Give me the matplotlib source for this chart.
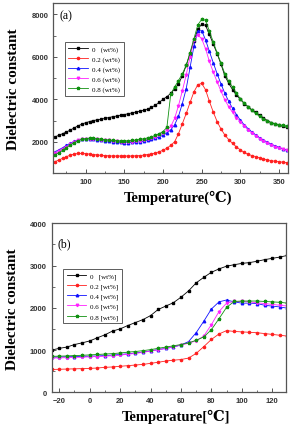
import matplotlib
matplotlib.use("Agg")
import matplotlib.pyplot as plt
from matplotlib.ticker import MultipleLocator
import numpy as np

# ---------------- data (a) ----------------
temp_a = list(range(60, 361, 5))
a_0 = [2230, 2300, 2380, 2460, 2550, 2650, 2750, 2830, 2900, 2950, 3000, 3030, 3060, 3100, 3140, 3180,
       3210, 3250, 3280, 3320, 3360, 3400, 3440, 3480, 3540, 3620, 3720, 3850, 4000, 4120, 4280, 4480,
       4730, 5100, 5600, 6150, 6750, 7300, 7530, 7480, 7050, 6600, 6150, 5650, 5100, 4750, 4450, 4200,
       4000, 3800, 3650, 3500, 3380, 3250, 3120, 3000, 2900, 2830, 2780, 2720, 2680]
a_02 = [1060, 1140, 1220, 1300, 1370, 1420, 1450, 1450, 1440, 1420, 1400, 1380, 1360, 1350, 1340, 1330,
        1330, 1330, 1330, 1330, 1330, 1340, 1350, 1370, 1400, 1430, 1470, 1530, 1600, 1700, 1830, 2000,
        2380, 2850, 3330, 3850, 4350, 4680, 4750, 4450, 3900, 3400, 2950, 2600, 2320, 2100, 1920, 1760,
        1620, 1500, 1410, 1350, 1300, 1240, 1190, 1150, 1110, 1080, 1060, 1040, 1020]
a_04 = [1530, 1620, 1720, 1830, 1930, 2020, 2090, 2120, 2130, 2130, 2110, 2080, 2060, 2040, 2020, 2000,
        1980, 1970, 1960, 1960, 1970, 1980, 2000, 2030, 2070, 2110, 2160, 2230, 2310, 2420, 2560, 2800,
        3200, 3800, 4500, 5500, 6500, 7200, 7230, 6800, 6250, 5720, 5200, 4720, 4280, 3900, 3570, 3280,
        3020, 2800, 2620, 2460, 2320, 2190, 2080, 1980, 1890, 1810, 1740, 1670, 1610]
a_06 = [1450, 1550, 1660, 1770, 1880, 1990, 2080, 2130, 2150, 2150, 2140, 2120, 2100, 2080, 2060, 2040,
        2020, 2010, 2000, 2000, 2010, 2020, 2040, 2070, 2110, 2160, 2230, 2320, 2420, 2550, 2720, 3100,
        3700, 4400, 5150, 6000, 6800, 7030, 6850, 6380, 5780, 5280, 4820, 4380, 3970, 3650, 3380, 3140,
        2940, 2740, 2560, 2410, 2280, 2150, 2040, 1940, 1850, 1770, 1700, 1640, 1590]
a_08 = [1380, 1480, 1590, 1720, 1850, 1960, 2050, 2110, 2150, 2170, 2170, 2150, 2120, 2100, 2080, 2060,
        2050, 2040, 2040, 2050, 2060, 2080, 2110, 2140, 2180, 2230, 2300, 2380, 2480, 2680, 4250, 4580,
        4880, 5200, 5600, 6200, 6850, 7500, 7760, 7720, 7200, 6700, 6180, 5700, 5200, 4850, 4570, 4280,
        4030, 3820, 3650, 3480, 3330, 3200, 3070, 2970, 2900, 2850, 2800, 2770, 2740]

# ---------------- data (b) ----------------
temp_b = list(range(-25, 131, 5))
b_0 = [1000, 1040, 1070, 1130, 1170, 1215, 1290, 1360, 1450, 1500, 1580, 1650, 1720, 1815, 1960, 2040,
       2120, 2250, 2400, 2590, 2720, 2840, 2920, 2985, 3020, 3050, 3070, 3100, 3140, 3170, 3200, 3240]
b_02 = [540, 545, 550, 555, 560, 565, 575, 590, 600, 615, 630, 645, 660, 685, 710, 740,
        760, 775, 810, 920, 1080, 1250, 1380, 1460, 1440, 1430, 1420, 1410, 1390, 1370, 1350, 1330]
b_04 = [830, 835, 840, 845, 850, 855, 860, 870, 880, 895, 910, 930, 950, 980, 1010, 1040,
        1070, 1120, 1200, 1410, 1680, 1970, 2140, 2185, 2140, 2110, 2110, 2100, 2060, 2040, 2020, 1990]
b_06 = [810, 815, 820, 825, 830, 840, 845, 855, 865, 880, 900, 920, 945, 975, 1005, 1040,
        1075, 1120, 1160, 1220, 1330, 1600, 1910, 2110, 2150, 2150, 2140, 2120, 2100, 2080, 2060, 2040]
b_08 = [850, 855, 860, 870, 875, 885, 895, 905, 915, 930, 950, 965, 985, 1010, 1040, 1070,
        1100, 1130, 1170, 1230, 1310, 1480, 1740, 2010, 2150, 2160, 2160, 2160, 2150, 2140, 2130, 2110]

labels_a = ["0   (wt%)", "0.2 (wt%)", "0.4 (wt%)", "0.6 (wt%)", "0.8 (wt%)"]
labels_b = ["0   [wt%]", "0.2 [wt%]", "0.4 [wt%]", "0.6 [wt%]", "0.8 [wt%]"]

colors = ["black", "#ff2020", "#1010ff", "#ff20ff", "#109010"]
markers = ["s", "o", "^", "v", "*"]
msizes = [1.5, 1.6, 1.8, 1.8, 2.4]

serif = ["Liberation Serif", "DejaVu Serif"]
sans = ["Liberation Sans", "DejaVu Sans"]

fig = plt.figure(figsize=(2.92, 4.31), dpi=100)
ax1 = fig.add_axes([0.1826, 0.5963, 0.987 - 0.1826, 0.9907 - 0.5963])
ax2 = fig.add_axes([0.177, 0.0875, 0.979 - 0.177, 0.4796 - 0.0875])


def style(ax):
    for s in ax.spines.values():
        s.set_color("#555555")
        s.set_linewidth(0.9)
    ax.tick_params(which="both", direction="in", top=False, right=False, colors="#555555",
                   labelcolor="#333333")
    ax.tick_params(which="major", length=3, width=0.7)
    ax.tick_params(which="minor", length=1.8, width=0.6)
    for lab in ax.get_xticklabels() + ax.get_yticklabels():
        lab.set_fontfamily(sans)
        lab.set_fontweight("bold")
        lab.set_fontsize(5.5)


series_a = [a_0, a_02, a_04, a_06, a_08]
for y, c, m, ms, l in zip(series_a, colors, markers, msizes, labels_a):
    ax1.plot(temp_a, y, color=c, marker=m, markersize=ms, lw=0.6, label=l)
ax1.set_xlim(58, 362)
ax1.set_ylim(530, 8530)
ax1.xaxis.set_major_locator(MultipleLocator(50))
ax1.xaxis.set_minor_locator(MultipleLocator(25))
ax1.yaxis.set_major_locator(MultipleLocator(2000))
ax1.yaxis.set_minor_locator(MultipleLocator(1000))
style(ax1)
ax1.set_xlabel("Temperature(\u2103)", fontfamily=serif, fontweight="bold", fontsize=10.5, labelpad=1)
ax1.set_ylabel("Dielectric constant", fontfamily=serif, fontweight="bold", fontsize=11, labelpad=8)
ax1.xaxis.set_label_coords(0.53, -0.1)
ax1.text(0.025, 0.93, "(a)", transform=ax1.transAxes, fontfamily=serif, fontsize=8.5, va="center")
leg1 = ax1.legend(loc="upper left", bbox_to_anchor=(0.035, 0.79), prop={"family": serif, "size": 5},
                  frameon=True, fancybox=False, edgecolor="#333333", handlelength=2.8,
                  labelspacing=0.55, borderpad=0.5, handletextpad=0.6)
leg1.get_frame().set_linewidth(0.7)

series_b = [b_0, b_02, b_04, b_06, b_08]
for y, c, m, ms, l in zip(series_b, colors, markers, msizes, labels_b):
    ax2.plot(temp_b, y, color=c, marker=m, markersize=ms, lw=0.6, label=l)
ax2.set_xlim(-25, 129)
ax2.set_ylim(0, 4000)
ax2.xaxis.set_major_locator(MultipleLocator(20))
ax2.xaxis.set_minor_locator(MultipleLocator(10))
ax2.yaxis.set_major_locator(MultipleLocator(1000))
ax2.yaxis.set_minor_locator(MultipleLocator(500))
style(ax2)
ax2.set_xlabel("Temperature[\u2103]", fontfamily=serif, fontweight="bold", fontsize=10.5, labelpad=1)
ax2.set_ylabel("Dielectric constant", fontfamily=serif, fontweight="bold", fontsize=11, labelpad=8)
ax2.xaxis.set_label_coords(0.53, -0.1)
ax2.text(0.025, 0.88, "(b)", transform=ax2.transAxes, fontfamily=serif, fontsize=8.5, va="center")
leg2 = ax2.legend(loc="upper left", bbox_to_anchor=(0.035, 0.75), prop={"family": serif, "size": 5},
                  frameon=True, fancybox=False, edgecolor="#333333", handlelength=2.8,
                  labelspacing=0.55, borderpad=0.5, handletextpad=0.6)
leg2.get_frame().set_linewidth(0.7)

fig.savefig("out.png", dpi=100)
